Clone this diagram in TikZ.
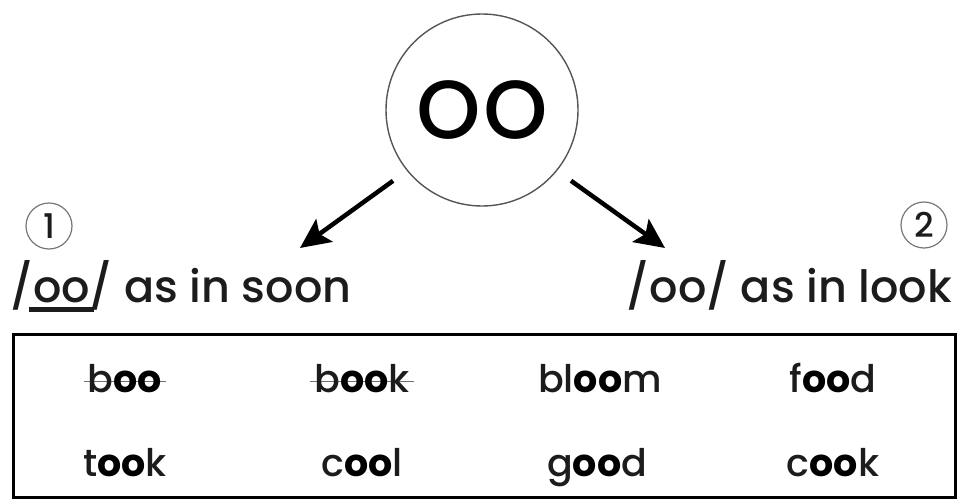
\documentclass[tikz,border=0pt]{standalone}
\usepackage{fontspec}
\IfFontExistsTF{Poppins Medium}
  {\setmainfont{Poppins Medium}[BoldFont={Poppins Bold}]}
  {\setmainfont{Poppins}}
\newfontfamily\hubfont{Poppins}
\usetikzlibrary{arrows.meta,positioning}
\definecolor{inkdark}{HTML}{1C1C1C}
\definecolor{inkblack}{HTML}{000000}
\definecolor{ringgray}{HTML}{555555}
\definecolor{strikegray}{HTML}{707070}
% bold vowel pair inside a word
\newcommand\vowelpair{{\color{inkblack}\bfseries oo}}
% word crossed out by a thin grey line
\newcommand\crossedword[1]{\setbox0\hbox{#1}%
  \rlap{\kern-4pt\color{strikegray}\rule[0.27em]{\dimexpr\wd0+8pt\relax}{1.2pt}}\box0}
% thick underline below the vowel pair
\newcommand\thickunder[1]{\setbox0\hbox{#1}%
  \rlap{\kern-4pt\rule[-10pt]{\dimexpr\wd0+8pt\relax}{5pt}}\box0}
\tikzset{
  hubring/.style={circle, draw=ringgray, line width=1.4pt, minimum size=192pt,
    inner sep=0pt, font=\hubfont\fontsize{104}{110}\selectfont, text=inkblack},
  numring/.style={circle, draw=ringgray!80, line width=1.2pt, minimum size=46pt,
    inner sep=0pt, font=\fontsize{34}{36}\selectfont, text=inkdark},
  soundlabel/.style={inner sep=0pt, font=\fontsize{44.5}{50}\selectfont, text=inkdark},
  wordcell/.style={inner sep=0pt, anchor=base, font=\fontsize{38}{40}\selectfont, text=inkdark},
  pointer/.style={-{Stealth[length=30pt,width=28pt,inset=6pt]}, line width=4.5pt,
    draw=inkblack, shorten <=17pt},
  wordframe/.style={draw=inkblack, line width=3pt}
}
\begin{document}
\begin{tikzpicture}[x=1pt,y=-1pt]
  \useasboundingbox (0,0) rectangle (960,503);
  \node[hubring] (hub) at (482,110) {oo};
  \coordinate (lefttip) at (300,248);
  \coordinate (righttip) at (665,248);
  \draw[pointer] (hub.219) -- (lefttip);
  \draw[pointer] (hub.321) -- (righttip);
  \node[numring] (ringone) at (49,226) {1};
  \node[numring] (ringtwo) at (924,225) {2};
  \node[soundlabel, anchor=base west] (soon) at (10,302) {/\thickunder{oo}/ as in soon};
  \node[soundlabel, anchor=base east] (look) at (952,302) {/oo/ as in look};
  \draw[wordframe] (13,334) rectangle (955,497);
  \node[wordcell] (boo) at (125,392) {\crossedword{b\vowelpair}};
  \node[wordcell] (book) at (362,392) {\crossedword{b\vowelpair k}};
  \node[wordcell] (bloom) at (600,392) {bl\vowelpair m};
  \node[wordcell] (food) at (833,392) {f\vowelpair d};
  \node[wordcell] (took) at (125,476) {t\vowelpair k};
  \node[wordcell] (cool) at (362,476) {c\vowelpair l};
  \node[wordcell] (good) at (597,476) {g\vowelpair d};
  \node[wordcell] (cook) at (833,476) {c\vowelpair k};
\end{tikzpicture}
\end{document}
